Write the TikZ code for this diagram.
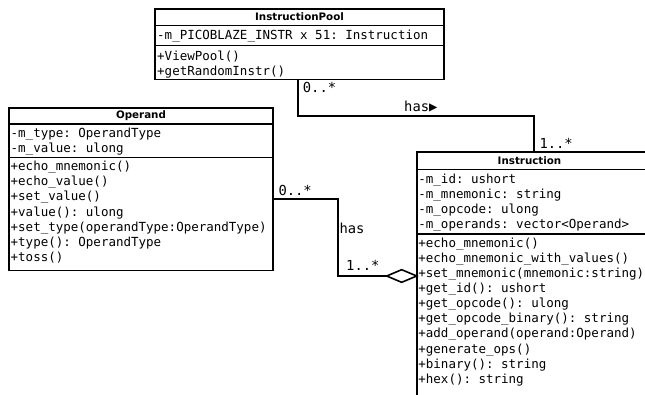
\documentclass[tikz,border=0pt]{standalone}
\usepackage{fontspec}
\setmainfont{DejaVu Sans}
\newfontfamily\umlmono{DejaVu Sans Mono}
\usetikzlibrary{shapes.geometric}
\frenchspacing
\begin{document}
\begin{tikzpicture}[x=1pt,y=-1pt,
  classbox/.style={draw, line width=1.7pt, fill=white, inner sep=0pt, outer sep=0pt, anchor=north west},
  sepline/.style={line width=1.4pt},
  classtitle/.style={font=\bfseries\fontsize{10.3}{12}\selectfont, inner sep=0pt, anchor=base},
  member/.style={font=\umlmono\fontsize{12.5}{15}\selectfont, inner sep=0pt, anchor=base west},
  mult/.style={font=\umlmono\fontsize{13.8}{16}\selectfont, inner sep=0pt, anchor=base west},
  conn/.style={line width=1.8pt},
  aggr/.style={draw, diamond, line width=1.6pt, fill=white, inner sep=0pt, outer sep=0pt,
    minimum width=30pt, minimum height=12.6pt, anchor=east}]
\useasboundingbox (0,0) rectangle (645,394);
\clip (0,0) rectangle (645,394);
\fill[white] (0,0) rectangle (645,394);

% InstructionPool
\node[classbox, minimum width=289pt, minimum height=70.5pt] (pool) at (155,9) {};
\draw[sepline] ([yshift=-16.7pt]pool.north west) -- ([yshift=-16.7pt]pool.north east);
\draw[sepline] ([yshift=-36.5pt]pool.north west) -- ([yshift=-36.5pt]pool.north east);
\node[classtitle] (pooltitle) at (299.5,20) {InstructionPool};
\node[member] (poola1) at (157,39.5) {-m\_PICOBLAZE\_INSTR x 51: Instruction};
\foreach \t [count=\i] in {{+ViewPool()},{+getRandomInstr()}}
  \node[member] (poolm\i) at (157,{60.5+15.1*(\i-1)}) {\t};

% Operand
\node[classbox, minimum width=264pt, minimum height=162.5pt] (operand) at (9,108) {};
\draw[sepline] ([yshift=-16pt]operand.north west) -- ([yshift=-16pt]operand.north east);
\draw[sepline] ([yshift=-49.5pt]operand.north west) -- ([yshift=-49.5pt]operand.north east);
\node[classtitle] (optitle) at (141,118.5) {Operand};
\foreach \t [count=\i] in {{-m\_type: OperandType},{-m\_value: ulong}}
  \node[member] (opa\i) at (10.5,{137+15.1*(\i-1)}) {\t};
\foreach \t [count=\i] in {{+echo\_mnemonic()},{+echo\_value()},{+set\_value()},{+value(): ulong},
  {+set\_type(operandType:OperandType)},{+type(): OperandType},{+toss()}}
  \node[member] (opm\i) at (10.5,{170.7+15.1*(\i-1)}) {\t};

% Instruction
\node[classbox, minimum width=240pt, minimum height=260pt] (instr) at (416.7,152.3) {};
\draw[sepline] ([yshift=-17pt]instr.north west) -- ([yshift=-17pt]instr.north east);
\draw[sepline] ([yshift=-81.7pt]instr.north west) -- ([yshift=-81.7pt]instr.north east);
\node[classtitle] (instrtitle) at (529.5,164.3) {Instruction};
\foreach \t [count=\i] in {{-m\_id: ushort},{-m\_mnemonic: string},{-m\_opcode: ulong},
  {-m\_operands: vector<Operand>}}
  \node[member] (ina\i) at (418.2,{183+15.1*(\i-1)}) {\t};
\foreach \t [count=\i] in {{+echo\_mnemonic()},{+echo\_mnemonic\_with\_values()},
  {+set\_mnemonic(mnemonic:string)},{+get\_id(): ushort},{+get\_opcode(): ulong},
  {+get\_opcode\_binary(): string},{+add\_operand(operand:Operand)},{+generate\_ops()},
  {+binary(): string},{+hex(): string}}
  \node[member] (inm\i) at (418.2,{247.3+15.1*(\i-1)}) {\t};

% InstructionPool -- Instruction
\coordinate (k1) at (298.3,116);
\coordinate (k2) at (534.3,116);
\draw[conn] (pool.south -| k1) -- (k1) -- (k2) -- (instr.north -| k2);
\node[mult] (m1) at (302.7,92.7) {0..*};
\node[mult] (r1) at (404,111.7) {has▶};
\node[mult] (m2) at (539.3,148.3) {1..*};

% Operand -- Instruction (aggregation)
\coordinate (k3) at (337.7,199.3);
\coordinate (k4) at (337.7,276);
\node[aggr] (dia) at (instr.west |- k4) {};
\draw[conn] (operand.east |- k3) -- (k3) -- (k4) -- (dia.west);
\node[mult] (m3) at (278.3,195) {0..*};
\node[mult] (r2) at (339.3,233.3) {has};
\node[mult] (m4) at (346,270) {1..*};
\end{tikzpicture}
\end{document}
